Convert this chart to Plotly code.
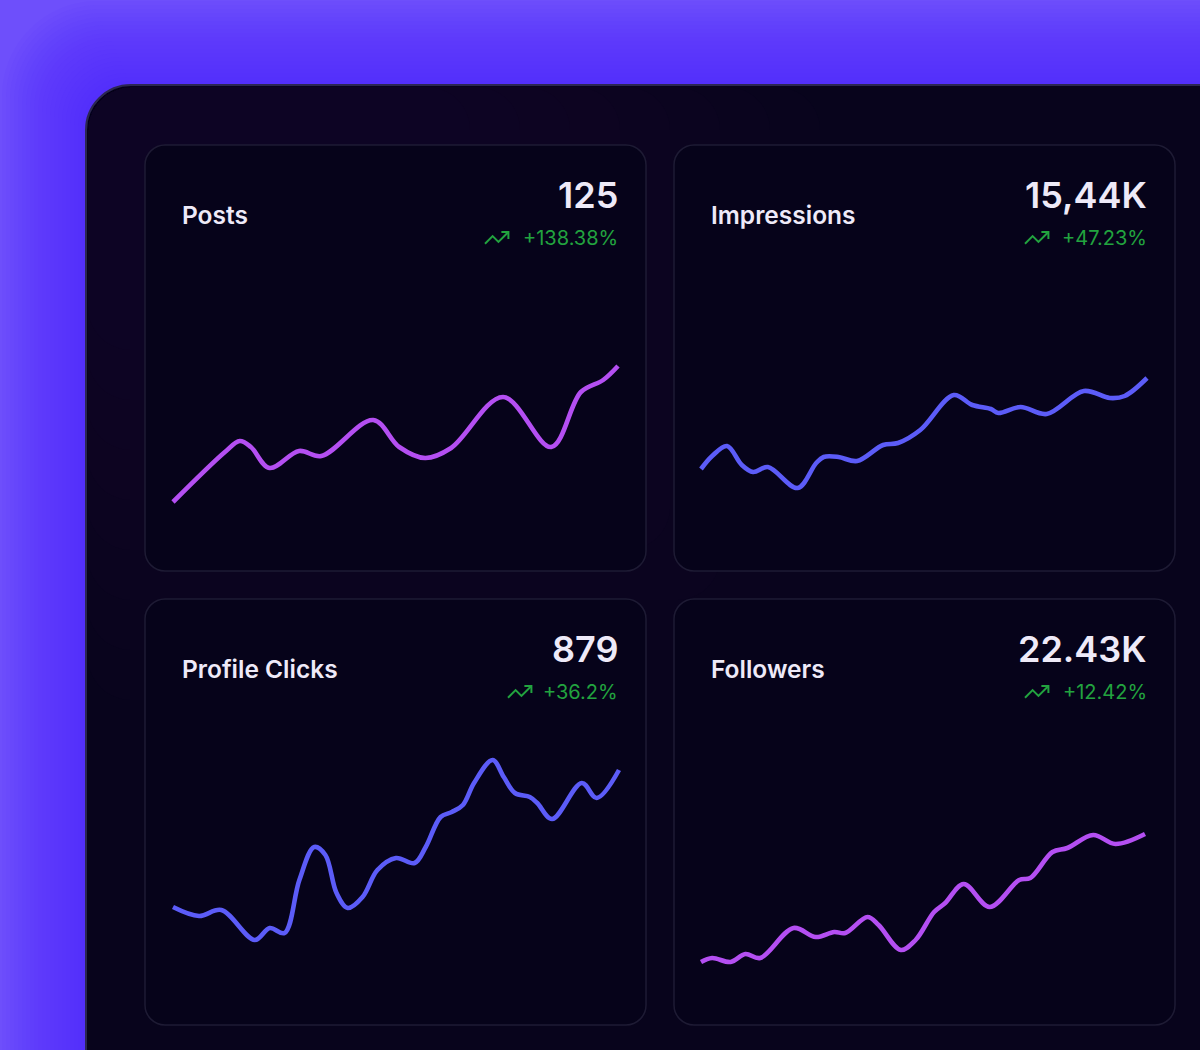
import plotly.graph_objects as go

W, H = 1200, 1050

# ---------------- data ----------------
titles = ["Posts", "Impressions", "Profile Clicks", "Followers"]
totals = ["125", "15,44K", "879", "22.43K"]
changes = ["+138.38%", "+47.23%", "+36.2%", "+12.42%"]

days_posts = [0, 14, 18, 21, 26, 34, 40, 54, 61, 68, 75, 89, 102, 110, 116, 120]
posts = [38, 88, 99, 93, 72, 89, 84, 120, 93, 82, 92, 143, 93, 148, 160, 174]

days_impr = [0, 3, 7, 11, 14, 18, 26, 31, 33, 37, 42, 49, 53, 59, 68, 73, 78, 80, 86, 93, 103, 110, 114, 120]
impressions = [71, 84, 94, 75, 68, 73, 52, 77, 83, 83, 79, 95, 97, 110, 145, 135, 131, 127, 133, 126, 149, 142, 144, 162]

days_clicks = [0, 7, 13, 22, 26, 30, 34, 38, 41, 44, 47, 51, 55, 60, 65, 68, 72, 75, 78, 81, 86, 89, 92, 96, 98, 102, 110, 114, 120]
profile_clicks = [83, 74, 80, 50, 62, 57, 110, 143, 135, 97, 82, 93, 120, 132, 127, 143, 173, 178, 185, 207, 230, 213, 197, 193, 187, 171, 207, 192, 220]

days_foll = [0, 3, 8, 12, 16, 25, 31, 36, 39, 45, 48, 54, 58, 63, 66, 71, 78, 86, 89, 95, 99, 106, 112, 120]
followers = [28, 32, 28, 36, 32, 62, 53, 58, 57, 73, 65, 40, 50, 78, 87, 106, 83, 110, 112, 138, 142, 155, 146, 156]

series_x = [days_posts, days_impr, days_clicks, days_foll]
series_y = [posts, impressions, profile_clicks, followers]

# ---------------- styles / layout ----------------
PURPLE = "#B44FF2"
BLUE = "#5C5CF8"
line_colors = [PURPLE, BLUE, BLUE, PURPLE]
GREEN = "#22A33F"
TEXT = "#EEEAF8"

cards = [(145, 145, 646, 571), (674, 145, 1175, 571),
         (145, 599, 646, 1025), (674, 599, 1175, 1025)]
line_x = [(173, 618), (701, 1147), (173, 619), (701, 1145)]
dom_y = [(340, 530), (350, 520), (740, 960), (800, 985)]
rng_y = [(10, 200), (20, 190), (30, 250), (5, 190)]


def fx(x):
    return x / W


def fy(y):
    return 1 - y / H


def rrect(x0, y0, x1, y1, r):
    k = 0.5523 * r
    pts = [
        f"M{fx(x0 + r)},{fy(y0)}",
        f"L{fx(x1 - r)},{fy(y0)}",
        f"C{fx(x1 - r + k)},{fy(y0)} {fx(x1)},{fy(y0 + r - k)} {fx(x1)},{fy(y0 + r)}",
        f"L{fx(x1)},{fy(y1 - r)}",
        f"C{fx(x1)},{fy(y1 - r + k)} {fx(x1 - r + k)},{fy(y1)} {fx(x1 - r)},{fy(y1)}",
        f"L{fx(x0 + r)},{fy(y1)}",
        f"C{fx(x0 + r - k)},{fy(y1)} {fx(x0)},{fy(y1 - r + k)} {fx(x0)},{fy(y1 - r)}",
        f"L{fx(x0)},{fy(y0 + r)}",
        f"C{fx(x0)},{fy(y0 + r - k)} {fx(x0 + r - k)},{fy(y0)} {fx(x0 + r)},{fy(y0)}",
        "Z",
    ]
    return " ".join(pts)


shapes = []
# soft glow around the panel (many faint layers)
for d in range(84, 0, -4):
    shapes.append(dict(type="path", xref="paper", yref="paper", layer="below",
                       path=rrect(86 - d, 85 - d, 1400, 1300, 45 + d * 0.6),
                       fillcolor="#5222F6", opacity=0.05, line=dict(width=0)))
# main panel
shapes.append(dict(type="path", xref="paper", yref="paper", layer="below",
                   path=rrect(86, 85, 1400, 1300, 45),
                   fillcolor="#08041C", line=dict(color="#2C2752", width=2)))
# faint lighter tint toward upper-left of panel
for d in range(0, 200, 25):
    shapes.append(dict(type="path", xref="paper", yref="paper", layer="below",
                       path=rrect(88, 87, 820 - d * 2, 700 - d * 2, 43),
                       fillcolor="#140C36", opacity=0.08, line=dict(width=0)))
for (x0, y0, x1, y1) in cards:
    shapes.append(dict(type="path", xref="paper", yref="paper", layer="below",
                       path=rrect(x0, y0, x1, y1, 20),
                       fillcolor="#06031A", line=dict(color="#1E1B34", width=1.5)))


def trend_icon(left, top, s=1.17):
    ox = left - 2 * s
    oy = top - 7 * s
    p1 = [(22, 7), (13.5, 15.5), (8.5, 10.5), (2, 17)]
    p2 = [(16, 7), (22, 7), (22, 13)]
    out = []
    for pts in (p1, p2):
        path = " ".join(("M" if i == 0 else "L") + f"{fx(ox + a * s)},{fy(oy + b * s)}"
                        for i, (a, b) in enumerate(pts))
        out.append(dict(type="path", xref="paper", yref="paper", layer="above",
                        path=path, line=dict(color=GREEN, width=2)))
    return out


icon_pos = [(485, 232), (1025, 232), (508, 686), (1025, 686)]
for (l, t) in icon_pos:
    shapes += trend_icon(l, t)

fig = go.Figure()
annotations = []
layout_axes = {}
for i in range(4):
    n = "" if i == 0 else str(i + 1)
    xa0, xa1 = line_x[i]
    unit = (xa1 - xa0) / 120.0
    pad = 12
    layout_axes[f"xaxis{n}"] = dict(domain=[fx(xa0 - pad), fx(xa1 + pad)],
                                    range=[-pad / unit, 120 + pad / unit],
                                    visible=False, fixedrange=True, anchor=f"y{n}")
    t, b = dom_y[i]
    layout_axes[f"yaxis{n}"] = dict(domain=[fy(b), fy(t)], range=list(rng_y[i]),
                                    visible=False, fixedrange=True, anchor=f"x{n}")
    fig.add_trace(go.Scatter(x=series_x[i], y=series_y[i], mode="lines",
                             line=dict(color=line_colors[i], width=4.6, shape="spline", smoothing=1.0),
                             xaxis=f"x{n}", yaxis=f"y{n}", hoverinfo="skip", showlegend=False))

    cx0, cy0, cx1, cy1 = cards[i]
    annotations.append(dict(xref="paper", yref="paper", x=fx(cx0 + 35), y=fy(cy0 + 70),
                            xanchor="left", yanchor="middle", showarrow=False, text=titles[i],
                            font=dict(family="Inter", size=24.5, color=TEXT, weight=600)))
    annotations.append(dict(xref="paper", yref="paper", x=fx(cx1 - 26), y=fy(cy0 + 50),
                            xanchor="right", yanchor="middle", showarrow=False, text=totals[i],
                            font=dict(family="Inter", size=36, color=TEXT, weight=600)))
    annotations.append(dict(xref="paper", yref="paper", x=fx(cx1 - 26), y=fy(cy0 + 93),
                            xanchor="right", yanchor="middle", showarrow=False, text=changes[i],
                            font=dict(family="Inter", size=20, color=GREEN, weight=400)))

fig.update_layout(
    width=W, height=H, margin=dict(l=0, r=0, t=0, b=0),
    paper_bgcolor="#6E4FFB", plot_bgcolor="rgba(0,0,0,0)",
    shapes=shapes, annotations=annotations, showlegend=False,
    **layout_axes,
)

fig.write_html("out.html", config={"displayModeBar": False})
